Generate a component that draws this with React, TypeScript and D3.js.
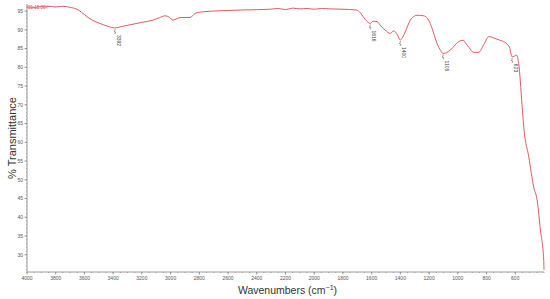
import React from "react";
import * as d3 from "d3";

const wavenumbers = [4000, 3944, 3900, 3875, 3840, 3805, 3770, 3749, 3700, 3652, 3620, 3582, 3540, 3491, 3440, 3387, 3340, 3282, 3200, 3122, 3080, 3038, 3010, 2983, 2960, 2934, 2864, 2829, 2780, 2655, 2500, 2307, 2250, 2200, 2150, 2098, 2050, 2000, 1950, 1889, 1800, 1707, 1680, 1659, 1630, 1610, 1590, 1563, 1535, 1505, 1470, 1447, 1420, 1401, 1385, 1366, 1331, 1300, 1284, 1238, 1210, 1192, 1170, 1145, 1120, 1103, 1080, 1052, 1020, 983, 960, 948, 920, 890, 855, 820, 785, 760, 727, 690, 657, 640, 622, 605, 592, 576, 553, 541, 506, 472, 448, 425, 402, 400];
const transmittance = [96.1, 96.0, 96.2, 96.1, 96.3, 96.1, 96.2, 96.3, 96.0, 95.5, 94.7, 93.5, 92.5, 91.7, 91.0, 90.5, 90.9, 91.35, 92.0, 92.6, 93.2, 93.75, 93.4, 92.6, 92.9, 93.3, 93.3, 94.4, 94.8, 95.1, 95.3, 95.5, 95.7, 95.4, 95.8, 95.6, 95.7, 95.5, 95.7, 95.6, 95.5, 95.3, 94.6, 93.5, 92.2, 91.7, 92.3, 92.2, 91.0, 89.9, 89.05, 89.75, 88.6, 87.3, 88.0, 89.5, 92.6, 93.7, 93.9, 93.75, 93.0, 91.7, 89.3, 86.4, 84.5, 83.7, 83.9, 84.6, 85.9, 87.1, 87.2, 86.6, 85.2, 84.0, 84.0, 86.0, 88.2, 88.0, 87.5, 87.0, 86.2, 85.3, 82.8, 83.0, 83.3, 81.0, 70.0, 64.1, 56.1, 48.1, 44.6, 36.6, 28.6, 26.0];

const peakLabels = ["3392", "1616", "1400", "1105", "623"];
const peakPositions = [3387, 1610, 1401, 1103, 622];
const yTicks = [30, 35, 40, 45, 50, 55, 60, 65, 70, 75, 80, 85, 90, 95];
const xTicks = [4000, 3800, 3600, 3400, 3200, 3000, 2800, 2600, 2400, 2200, 2000, 1800, 1600, 1400, 1200, 1000, 800, 600];

export default function App() {
  const W = 550, H = 299;
  const left = 27, right = 544, top = 4, bottom = 272;
  const x = d3.scaleLinear().domain([4000, 400]).range([left, right]);
  const y = d3.scaleLinear().domain([25.4, 96.9]).range([bottom, top]);
  const pts = wavenumbers.map((w, i) => [w, transmittance[i]] as [number, number]);
  const line = d3.line<[number, number]>().x(d => x(d[0])).y(d => y(d[1])).curve(d3.curveMonotoneX);
  const axisColor = "#808080";
  const textColor = "#555";
  const xMinor = d3.range(400, 4001, 50);
  const yMinor = d3.range(26, 97, 1);
  const interp = (w: number) => {
    for (let i = 0; i < pts.length - 1; i++) {
      const a = pts[i], b = pts[i + 1];
      if (w <= a[0] && w >= b[0]) {
        const t = (a[0] - w) / (a[0] - b[0]);
        return a[1] + t * (b[1] - a[1]);
      }
    }
    return pts[pts.length - 1][1];
  };
  return (
    <svg width={W} height={H} style={{ position: "absolute", left: 0, top: 0, background: "#fff" }}
      fontFamily="'Liberation Sans', Arial, sans-serif">
      <line x1={left} x2={left} y1={top} y2={bottom} stroke={axisColor} strokeWidth={0.8} />
      <line x1={left} x2={right} y1={bottom} y2={bottom} stroke={axisColor} strokeWidth={0.8} />
      {yMinor.map(v => (
        <line key={"ym" + v} x1={left - 1} x2={left} y1={y(v)} y2={y(v)} stroke={axisColor} strokeWidth={0.6} />
      ))}
      {xMinor.map(v => (
        <line key={"xm" + v} x1={x(v)} x2={x(v)} y1={bottom} y2={bottom + 1} stroke={axisColor} strokeWidth={0.6} />
      ))}
      {yTicks.map(v => (
        <g key={"yt" + v}>
          <line x1={left - 2.5} x2={left} y1={y(v)} y2={y(v)} stroke={axisColor} strokeWidth={0.8} />
          <text x={left - 4} y={y(v)} dy="0.35em" fontSize={5} fill={textColor} textAnchor="end">{v}</text>
        </g>
      ))}
      {xTicks.map(v => (
        <g key={"xt" + v}>
          <line x1={x(v)} x2={x(v)} y1={bottom} y2={bottom + 2.5} stroke={axisColor} strokeWidth={0.8} />
          <text x={x(v)} y={bottom + 8} fontSize={5} fill={textColor} textAnchor="middle">{v}</text>
        </g>
      ))}
      <text transform={`translate(16,${(top + bottom) / 2}) rotate(-90)`} textAnchor="middle" fontSize={11} fill="#333">% Transmittance</text>
      <text x={(left + right) / 2 + 2} y={294} textAnchor="middle" fontSize={10.5} fill="#333">
        Wavenumbers (cm<tspan dy={-4} fontSize={7}>−1</tspan><tspan dy={4}>)</tspan>
      </text>
      <text x={left + 1} y={8.5} fontSize={4.5} fill="#d44">21:15:06Y</text>
      <path d={line(pts) || ""} fill="none" stroke="#e0474c" strokeWidth={0.9} />
      {peakLabels.map((lab, i) => {
        const w = peakPositions[i];
        const px = x(w);
        const py = y(interp(w));
        return (
          <g key={lab}>
            <path d={`M${px},${py + 1} L${px},${py + 3} L${px - 1},${py + 3.5} L${px + 1},${py + 4.5} L${px},${py + 5} L${px},${py + 6}`} fill="none" stroke="#555" strokeWidth={0.5} />
            <text transform={`translate(${px + 1.8},${py + 7}) rotate(90)`} fontSize={5} fill="#444">{lab}</text>
          </g>
        );
      })}
    </svg>
  );
}
